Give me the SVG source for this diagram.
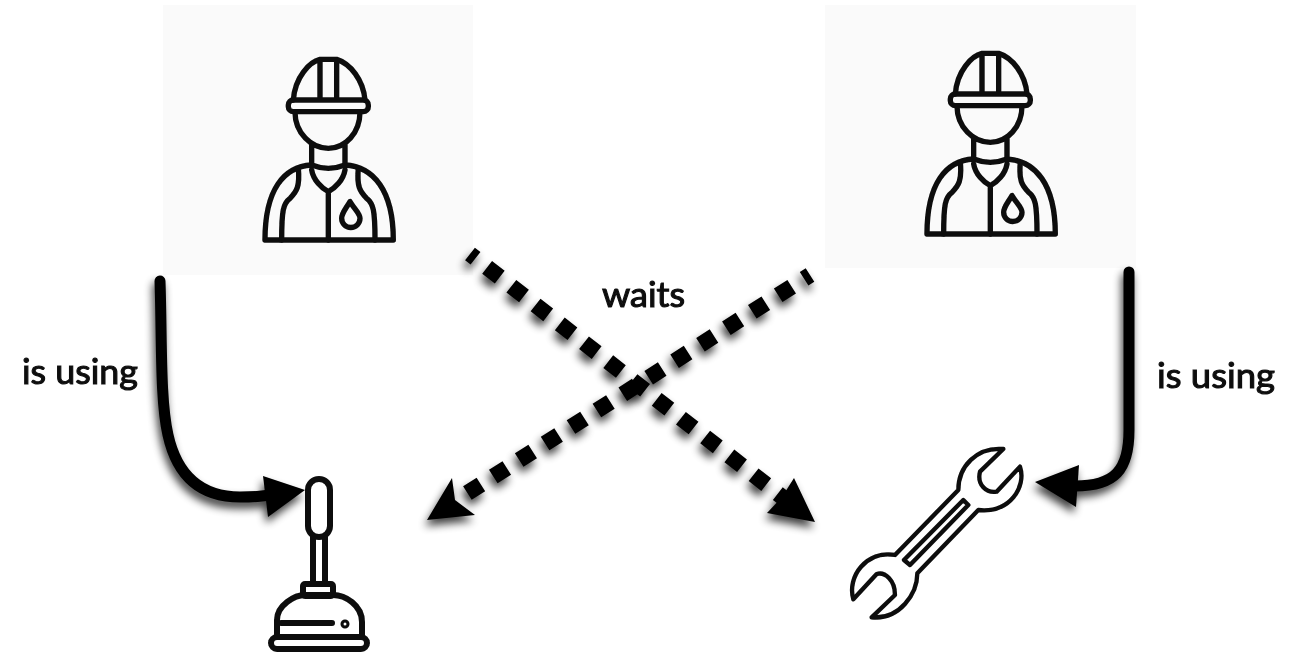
<svg xmlns="http://www.w3.org/2000/svg" width="1294" height="652" viewBox="0 0 1294 652">
<style>
.ic{fill:none;stroke:#0a0a0a;stroke-linejoin:round;stroke-linecap:round}
.w{stroke-width:16}
.panel{fill:#fafafa}
.lbl{font-family:"Lato","Liberation Sans",sans-serif;font-size:35px;font-weight:400;fill:#111;stroke:#111;stroke-width:1.1}
.c{fill:none;stroke:#000}
.sol{stroke-width:11;stroke-linecap:round}
.dash{stroke-width:16;stroke-dasharray:16 14.7;stroke-dashoffset:9}
.head{fill:#000;stroke:none}
</style>
<defs>
<filter id="sh" filterUnits="userSpaceOnUse" x="0" y="0" width="1294" height="652" color-interpolation-filters="sRGB">
<feGaussianBlur in="SourceAlpha" stdDeviation="4.5" result="b"/>
<feOffset in="b" dx="-2" dy="6" result="o"/>
<feComponentTransfer in="o" result="s"><feFuncA type="linear" slope="0.75"/></feComponentTransfer>
<feGaussianBlur in="SourceGraphic" stdDeviation="0.7" result="g"/>
<feMerge><feMergeNode in="s"/><feMergeNode in="g"/></feMerge>
</filter>
<filter id="soft"><feGaussianBlur stdDeviation="0.7"/></filter>
<g id="worker" class="ic w">
<path d="M160,180C165,110 210,65 240,58H290C330,70 370,120 375,180M240,58V175M290,58V175"/>
<rect x="145" y="180" width="240" height="35" rx="15"/>
<path d="M165,215C165,280 215,325 265,325C315,325 360,280 360,215M215,312V375M315,312V375"/>
<path d="M215,375C130,380 75,450 75,600H460C460,450 400,380 315,375M215,375Q265,395 315,375"/>
<path d="M175,385C180,440 170,455 150,475C130,490 125,510 125,600M355,385C350,440 360,455 380,475C400,490 405,510 405,600"/>
<path d="M215,390C220,420 245,445 265,455C285,445 310,420 315,390M265,455V600"/>
<path d="M330,485C315,510 305,520 305,535A27,27 0 0 0 360,535C360,520 345,510 330,485Z"/>
</g>
</defs>
<g id="worker-left">
<rect class="panel" x="163" y="5" width="310" height="270"/>
<g filter="url(#soft)"><use href="#worker" transform="translate(240,40) scale(.3333)"/></g>
</g>
<g id="worker-right">
<rect class="panel" x="825" y="5" width="311" height="263"/>
<g filter="url(#soft)"><use href="#worker" transform="translate(902,34) scale(.3333)"/></g>
</g>
<g id="plunger" class="ic" filter="url(#soft)" style="stroke-width:6">
<rect x="308" y="479" width="22" height="58" rx="11"/>
<path d="M313,537V584M325,537V584"/>
<rect x="303" y="584" width="30" height="12" rx="2"/>
<path d="M277,636V620C277,605 295,595 305,595H333C345,595 362,605 362,622V636"/>
<rect x="271" y="637" width="96" height="12" rx="6"/>
<path d="M281,623H332"/>
<circle cx="345" cy="624" r="1.5"/>
</g>
<g id="wrench" filter="url(#soft)">
<path class="ic" transform="translate(830,430) scale(.3333)" style="stroke-width:13" d="M385,180C385,110 440,50 520,57L450,125C440,165 470,190 500,185L570,110C590,170 540,250 445,240L262,430C262,490 210,570 125,562L195,495C195,450 165,425 140,432L70,508C50,440 110,360 195,375ZM400,210L415,225L240,405L222,390Z"/>
</g>
<g id="connectors">
<g filter="url(#sh)">
<path class="c sol" d="M160,281C162,340 160,400 168,435C178,480 205,497 240,497C250,497 258,497 270,495"/>
<path class="head" d="M305,490L263,476L268,517Z"/>
</g>
<g filter="url(#sh)">
<path class="c sol" d="M1129,272C1129,330 1129,390 1129,430C1129,470 1115,486 1075,486"/>
<path class="head" d="M1035,482L1079,465L1076,507Z"/>
</g>
<g filter="url(#sh)">
<path class="c dash" d="M470,254L786,500"/>
<path class="head" d="M815,522L794,478L782,497L767,513Z"/>
</g>
<g filter="url(#sh)">
<path class="c dash" d="M810,275L458,499"/>
<path class="head" d="M427,520L452,478L455,500L475,515Z"/>
</g>
</g>
<g id="labels" filter="url(#soft)">
<text class="lbl" x="22" y="384" textLength="116" lengthAdjust="spacingAndGlyphs">is using</text>
<text class="lbl" x="1157" y="388" textLength="118" lengthAdjust="spacingAndGlyphs">is using</text>
<text class="lbl" x="602" y="307" textLength="83" lengthAdjust="spacingAndGlyphs">waits</text>
</g>
</svg>
